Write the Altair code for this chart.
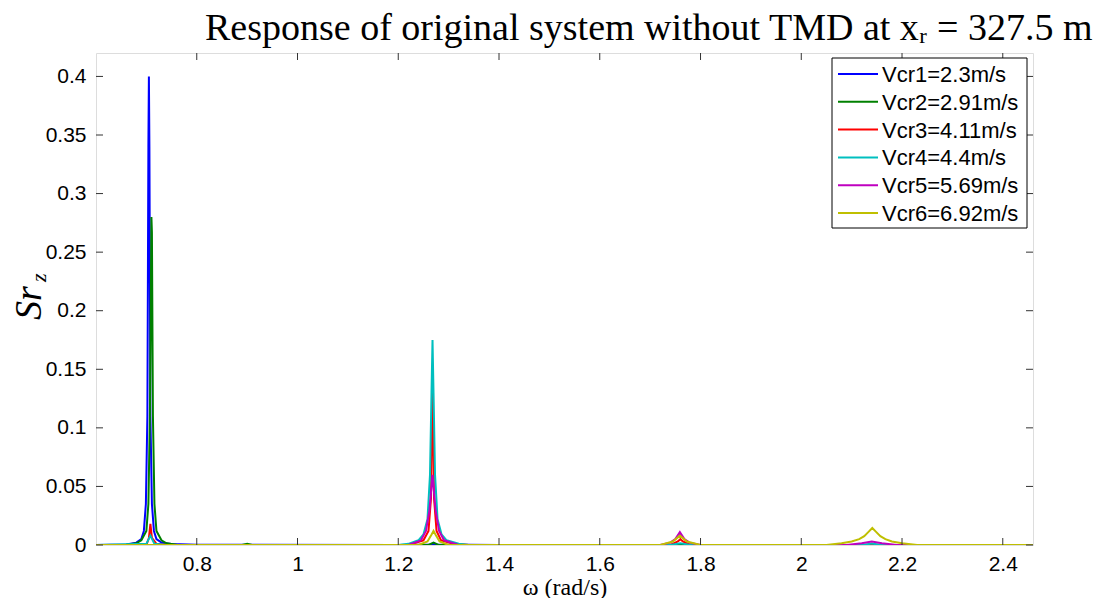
import altair as alt
import pandas as pd

# ---- data ----
series_labels = ["Vcr1=2.3m/s", "Vcr2=2.91m/s", "Vcr3=4.11m/s",
                 "Vcr4=4.4m/s", "Vcr5=5.69m/s", "Vcr6=6.92m/s"]
series_colors = ["#0000ff", "#008000", "#ff0000", "#00bfbf", "#bf00bf", "#bfbf00"]

w1 = [0.60, 0.66, 0.68, 0.69, 0.695, 0.699, 0.702, 0.704, 0.705, 0.706, 0.708, 0.711,
      0.715, 0.72, 0.73, 0.75, 0.80, 1.20, 1.265, 1.27, 1.275, 1.40, 2.46]
s1 = [0, 0.0005, 0.002, 0.005, 0.012, 0.035, 0.11, 0.34, 0.40, 0.34, 0.11, 0.035,
      0.012, 0.005, 0.002, 0.0008, 0.0002, 0, 0.0005, 0.001, 0.0005, 0, 0]

w2 = [0.60, 0.66, 0.68, 0.69, 0.70, 0.704, 0.707, 0.709, 0.710, 0.711, 0.713, 0.716,
      0.72, 0.73, 0.74, 0.76, 0.80, 0.89, 0.90, 0.91, 1.26, 1.27, 1.28, 2.46]
s2 = [0, 0.0003, 0.0015, 0.004, 0.012, 0.035, 0.11, 0.22, 0.28, 0.267, 0.11, 0.035,
      0.012, 0.004, 0.0015, 0.0003, 0, 0, 0.001, 0, 0, 0.002, 0, 0]

w3 = [0.60, 0.70, 0.705, 0.708, 0.711, 0.72, 0.74, 1.22, 1.25, 1.26, 1.265, 1.268,
      1.271, 1.276, 1.285, 1.31, 1.34, 1.74, 1.755, 1.76, 1.765, 1.78, 2.46]
s3 = [0, 0, 0.006, 0.018, 0.006, 0.001, 0, 0, 0.004, 0.012, 0.04, 0.15,
      0.04, 0.012, 0.004, 0.001, 0, 0, 0.003, 0.005, 0.003, 0, 0]

w4 = [0.60, 0.70, 0.708, 0.716, 0.74, 1.20, 1.22, 1.24, 1.25, 1.258, 1.263, 1.266,
      1.268, 1.270, 1.273, 1.278, 1.286, 1.296, 1.32, 1.34, 1.74, 1.76, 1.78,
      2.12, 2.14, 2.16, 2.46]
s4 = [0, 0.001, 0.008, 0.001, 0, 0, 0.001, 0.004, 0.009, 0.022, 0.06, 0.13,
      0.175, 0.13, 0.06, 0.022, 0.009, 0.004, 0.001, 0, 0, 0.0015, 0,
      0, 0.0012, 0, 0]

w5 = [0.60, 1.22, 1.245, 1.255, 1.262, 1.268, 1.274, 1.281, 1.291, 1.32, 1.72, 1.74,
      1.75, 1.759, 1.768, 1.778, 1.80, 2.09, 2.12, 2.14, 2.16, 2.19, 2.46]
s5 = [0, 0, 0.004, 0.012, 0.03, 0.06, 0.03, 0.012, 0.004, 0, 0, 0.002,
      0.005, 0.011, 0.005, 0.002, 0, 0, 0.0015, 0.003, 0.0015, 0, 0]

w6 = [0.60, 1.24, 1.258, 1.265, 1.27, 1.275, 1.282, 1.30, 1.72, 1.745, 1.759, 1.773,
      1.80, 2.05, 2.08, 2.10, 2.115, 2.125, 2.133, 2.141, 2.149, 2.157, 2.167, 2.18,
      2.20, 2.23, 2.46]
s6 = [0, 0, 0.003, 0.008, 0.012, 0.008, 0.003, 0, 0, 0.003, 0.008, 0.003,
      0, 0, 0.0015, 0.003, 0.005, 0.0075, 0.011, 0.0145, 0.011, 0.0075, 0.005, 0.003,
      0.0015, 0, 0]

x_ticks = [0.8, 1.0, 1.2, 1.4, 1.6, 1.8, 2.0, 2.2, 2.4]
y_ticks = [0, 0.05, 0.1, 0.15, 0.2, 0.25, 0.3, 0.35, 0.4]

W, H = 937, 492

rows = []
for k, (ws, ss) in enumerate([(w1, s1), (w2, s2), (w3, s3), (w4, s4), (w5, s5), (w6, s6)]):
    for i, (a, b) in enumerate(zip(ws, ss)):
        rows.append({"w": a, "s": b, "series": series_labels[k], "k": k, "i": i})
df = pd.DataFrame(rows)
leg_df = pd.DataFrame({"series": series_labels, "idx": list(range(len(series_labels)))})

xs = alt.Scale(domain=[0.6, 2.46], nice=False, zero=False)
ys = alt.Scale(domain=[0, 0.42], nice=False)
cs = alt.Scale(domain=series_labels, range=series_colors)

lines = alt.Chart(df).mark_line(strokeWidth=2, clip=True).encode(
    x=alt.X("w:Q", scale=xs,
            axis=alt.Axis(values=x_ticks, format="~g", domain=False, ticks=False, grid=False,
                          labelFont="Liberation Sans", labelFontSize=21, labelColor="black",
                          labelPadding=8, title="ω (rad/s)", titleFont="Liberation Serif",
                          titleFontSize=24, titleFontWeight="normal", titleColor="black",
                          titleY=49, titleBaseline="alphabetic")),
    y=alt.Y("s:Q", scale=ys,
            axis=alt.Axis(values=y_ticks, format="~g", domain=False, ticks=False, grid=False,
                          labelFont="Liberation Sans", labelFontSize=21, labelColor="black",
                          labelPadding=10, title=None)),
    color=alt.Color("series:N", scale=cs, legend=None),
    detail="k:N",
    order="i:Q",
)

xt = pd.DataFrame({"t": x_ticks})
yt = pd.DataFrame({"t": y_ticks})
tick_style = dict(color="#333333", strokeWidth=1)
xb = alt.Chart(xt).mark_rule(**tick_style).encode(x=alt.X("t:Q", scale=xs), y=alt.value(H), y2=alt.value(H - 7))
xtp = alt.Chart(xt).mark_rule(**tick_style).encode(x=alt.X("t:Q", scale=xs), y=alt.value(0), y2=alt.value(7))
yl = alt.Chart(yt).mark_rule(**tick_style).encode(y=alt.Y("t:Q", scale=ys, axis=None), x=alt.value(0), x2=alt.value(7))
yr = alt.Chart(yt).mark_rule(**tick_style).encode(y=alt.Y("t:Q", scale=ys, axis=None), x=alt.value(W), x2=alt.value(W - 7))

# legend box (drawn by hand, MATLAB style)
leg_y = alt.Y("idx:O", scale=alt.Scale(type="point", range=[21, 160], padding=0), axis=None)
leg_box = alt.Chart(pd.DataFrame({"b": [0]})).mark_rect(
    fill="white", stroke="black", strokeWidth=1
).encode(x=alt.value(736), x2=alt.value(931), y=alt.value(5), y2=alt.value(175))
leg_sym = alt.Chart(leg_df).mark_rule(strokeWidth=2).encode(
    y=leg_y, x=alt.value(742), x2=alt.value(782),
    color=alt.Color("series:N", scale=cs, legend=None))
leg_txt = alt.Chart(leg_df).mark_text(
    align="left", baseline="middle", font="Liberation Sans", fontSize=22, color="black", dy=1
).encode(y=leg_y, x=alt.value(786), text="series:N")

lab_main = alt.Chart(pd.DataFrame({"t": ["Sr"]})).mark_text(
    font="Liberation Serif", fontStyle="italic", fontSize=38, angle=270,
    align="left", baseline="alphabetic", color="black"
).encode(x=alt.value(-55), y=alt.value(267), text="t:N")
lab_sub = alt.Chart(pd.DataFrame({"t": ["z"]})).mark_text(
    font="Liberation Serif", fontStyle="italic", fontSize=22, angle=270,
    align="left", baseline="alphabetic", color="black"
).encode(x=alt.value(-50), y=alt.value(229), text="t:N")

chart = alt.layer(lines, xb, xtp, yl, yr, lab_main, lab_sub, leg_box, leg_sym, leg_txt).resolve_scale(
    y="independent"
).properties(
    width=W, height=H,
    title=alt.TitleParams(text="Response of original system without TMD at xᵣ = 327.5 m",
                          anchor="start", frame="group", dx=109, font="Liberation Serif",
                          fontSize=38, fontWeight="normal", color="black", offset=5),
    autosize=alt.AutoSizeParams(type="none"),
    padding={"left": 96, "top": 53, "right": 80, "bottom": 53},
).configure_view(stroke="#555555", strokeWidth=2).configure(background="white")

chart.save("out.html", embed_options={"renderer": "svg", "actions": False})
